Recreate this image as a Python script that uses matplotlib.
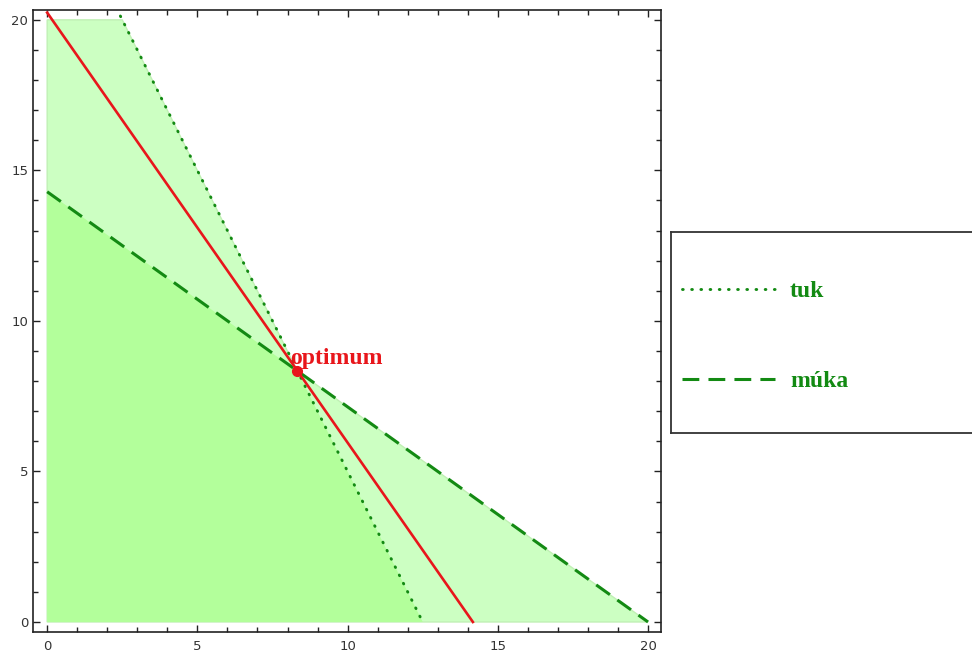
import numpy as np
import matplotlib.pyplot as plt
from matplotlib.patches import Polygon
from matplotlib.lines import Line2D
from matplotlib.ticker import MultipleLocator

# --- data ---
# tuk constraint (dotted), múka constraint (dashed), objective (red)
tuk_x = [2.3, 12.5]
tuk_y = [20.4, 0.0]
muka_x = [0.0, 20.0]
muka_y = [14.29, 0.0]
cena_x = [0.0, 14.17]
cena_y = [20.24, 0.0]
opt_x, opt_y = 8.33, 8.33

# union of both half-planes (light) and intersection (feasible, darker)
union_x = [0.0, 0.0, 2.5, 8.33, 20.0]
union_y = [0.0, 20.0, 20.0, 8.33, 0.0]
feas_x = [0.0, 0.0, 8.33, 12.5]
feas_y = [0.0, 14.29, 8.33, 0.0]

legend_labels = ['tuk', 'múka']

GREEN = '#138a13'
RED = '#e8161b'
DOTS = (0, (0.25, 2.9))
DASH = (0, (5.5, 3.0))

fig = plt.figure(figsize=(9.72, 6.61), dpi=100)
ax = fig.add_axes([0.034, 0.044, 0.646, 0.941])

ax.add_patch(Polygon(np.column_stack([union_x, union_y]), closed=True,
                     facecolor='#ccffc2', edgecolor='#c0f0b4', lw=1.0, zorder=1))
ax.add_patch(Polygon(np.column_stack([feas_x, feas_y]), closed=True,
                     facecolor='#b3ff9b', edgecolor='none', zorder=2))

ax.plot(tuk_x, tuk_y, color=GREEN, lw=2.1, linestyle=DOTS,
        dash_capstyle='round', zorder=3)
ax.plot(muka_x, muka_y, color=GREEN, lw=2.2, linestyle=DASH, zorder=3)
ax.plot(cena_x, cena_y, color=RED, lw=1.9, zorder=4)
ax.plot([opt_x], [opt_y], 'o', color=RED, ms=7, zorder=5)
ax.annotate('optimum', (opt_x, opt_y), xytext=(-5, 5), textcoords='offset points',
            color=RED, fontsize=17, fontweight='bold', family='Liberation Serif',
            ha='left', va='baseline', zorder=6)

ax.set_xlim(-0.47, 20.43)
ax.set_ylim(-0.33, 20.33)
ax.xaxis.set_major_locator(MultipleLocator(5))
ax.yaxis.set_major_locator(MultipleLocator(5))
ax.xaxis.set_minor_locator(MultipleLocator(1))
ax.yaxis.set_minor_locator(MultipleLocator(1))
ax.tick_params(which='both', direction='in', top=True, right=True,
               color='#222222', width=1.0, labelsize=9.5, labelcolor='#333333')
ax.tick_params(which='major', length=5)
ax.tick_params(which='minor', length=3.5)
ax.tick_params(axis='x', pad=6)
for s in ax.spines.values():
    s.set_linewidth(1.2)
    s.set_color('#222222')

# legend box on the right, running off the figure edge
lax = fig.add_axes([0.690, 0.345, 0.313, 0.304])
lax.set_xticks([])
lax.set_yticks([])
for s in lax.spines.values():
    s.set_linewidth(1.3)
    s.set_color('#333333')
handles = [
    Line2D([], [], color=GREEN, lw=2.1, linestyle=DOTS, dash_capstyle='round'),
    Line2D([], [], color=GREEN, lw=2.2, linestyle=DASH),
]
leg = lax.legend(handles, legend_labels, loc='center left', bbox_to_anchor=(0, 0.48),
                 frameon=False, borderaxespad=0, borderpad=0.5,
                 handlelength=3.9, handletextpad=0.65, labelspacing=2.9,
                 prop={'family': 'Liberation Serif', 'weight': 'bold', 'size': 17})
for t in leg.get_texts():
    t.set_color(GREEN)

fig.savefig('out.png', dpi=100)
